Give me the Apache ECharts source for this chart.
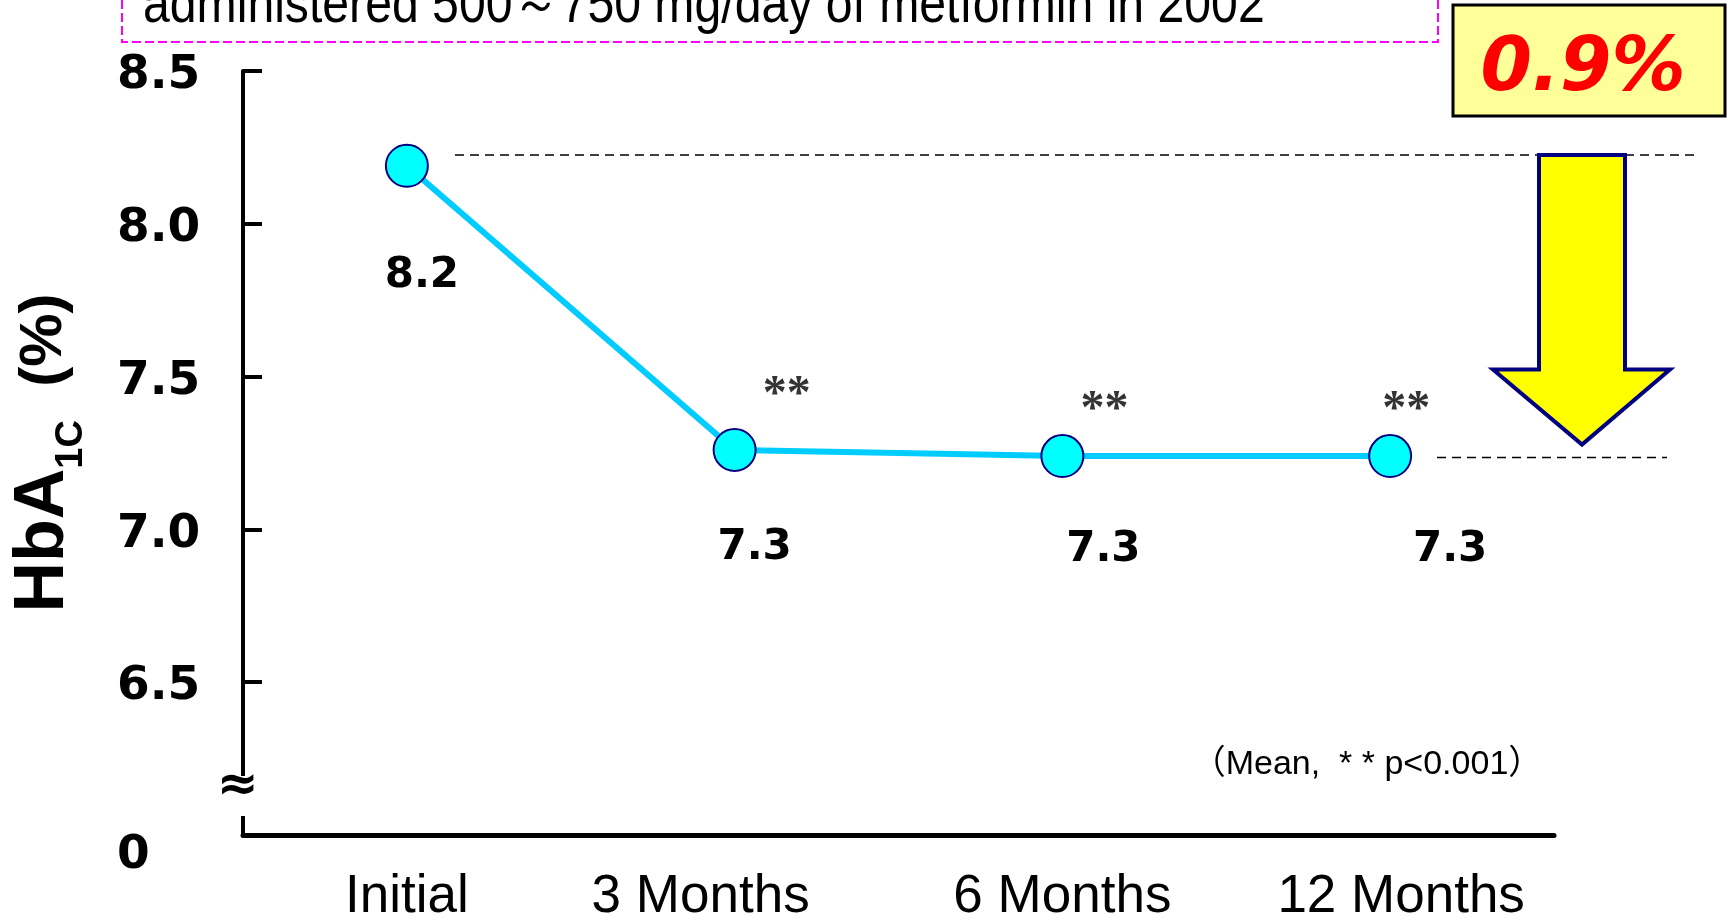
<!DOCTYPE html>
<html>
<head>
<meta charset="utf-8">
<title>HbA1c</title>
<script src="https://cdn.jsdelivr.net/npm/echarts@6.0.0/dist/echarts.min.js"></script>
<style>
  html, body { margin: 0; padding: 0; background: #fff; }
  #main { width: 1727px; height: 918px; }
</style>
</head>
<body>
<div id="main"></div>
<script>
var periods = ['Initial', '3 Months', '6 Months', '12 Months'];
var hba1c = [8.19, 7.26, 7.24, 7.24];
var meanLabels = ['8.2', '7.3', '7.3', '7.3'];
var sigMarks = ['', '**', '**', '**'];
var yTicks = [6, 6.5, 7, 7.5, 8, 8.5];
var yTickLabels = ['0', '6.5', '7.0', '7.5', '8.0', '8.5'];
var refLevels = [8.225, 7.235];
var dropText = '0.9%';
var noteText = '（Mean,  * * p<0.001）';
var headline = 'administered 500～750 mg/day of metformin in 2002';

(function () {
  var chart = echarts.init(document.getElementById('main'));
  var sans = '"Liberation Sans", sans-serif';
  var wide = '"DejaVu Sans", sans-serif';

  // label nudges, as placed on the slide
  var valueOffsets = [[15, 110], [20, 98], [41, 94], [60, 94]];
  var sigOffsets = [[0, 0], [52, -54], [42, -45], [16, -45]];
  var xLabelPad = [[0, 0, 0, 0], [0, 68, 0, 0], [0, 0, 0, 0], [0, 0, 0, 22]];

  var lineData = hba1c.map(function (v, i) {
    return { value: v, label: { offset: valueOffsets[i] } };
  });
  var sigData = hba1c.map(function (v, i) {
    return { value: [i, v], label: { offset: sigOffsets[i] } };
  });
  var xData = periods.map(function (p, i) {
    return { value: p, textStyle: { padding: xLabelPad[i] } };
  });

  var option = {
    animation: false,
    grid: { left: 243, right: 173, top: 71, bottom: 83, outerBoundsMode: 'none', containLabel: false },
    xAxis: {
      type: 'category',
      data: xData,
      boundaryGap: true,
      axisLine: { lineStyle: { color: '#000', width: 5 } },
      axisTick: { show: false },
      axisLabel: { interval: 0, margin: 36, color: '#000', fontSize: 53, fontFamily: sans }
    },
    yAxis: {
      type: 'value',
      min: yTicks[0],
      max: yTicks[yTicks.length - 1],
      interval: 0.5,
      name: '{a|HbA}{b|1C}{c|  (%)}',
      nameLocation: 'middle',
      nameRotate: 90,
      nameGap: 152,
      nameTextStyle: {
        rich: {
          a: { fontSize: 70, fontWeight: 'bold', fontFamily: sans, color: '#000' },
          b: { fontSize: 38, fontWeight: 'bold', fontFamily: sans, color: '#000', padding: [56, 0, 0, 0] },
          c: { fontSize: 60, fontWeight: 'bold', fontFamily: sans, color: '#000' }
        }
      },
      axisLine: { show: true, lineStyle: { color: '#000', width: 4 } },
      axisTick: { show: true, inside: true, length: 19, lineStyle: { color: '#000', width: 4 } },
      splitLine: { show: false },
      axisLabel: {
        align: 'left',
        margin: 126,
        color: '#000',
        fontSize: 47,
        fontWeight: 'bold',
        fontFamily: wide,
        formatter: function (v) {
          var i = yTicks.indexOf(v);
          if (i < 0) return '';
          return i === 0 ? '{z|' + yTickLabels[i] + '}' : '{n|' + yTickLabels[i] + '}';
        },
        rich: {
          n: { fontSize: 47, fontWeight: 'bold', fontFamily: wide, color: '#000', padding: [10, 0, 0, 0] },
          z: { fontSize: 47, fontWeight: 'bold', fontFamily: wide, color: '#000', padding: [42, 0, 0, 0] }
        }
      }
    },
    series: [
      {
        name: 'HbA1c',
        type: 'line',
        data: lineData,
        symbol: 'circle',
        symbolSize: 42,
        lineStyle: { color: '#00CCFF', width: 6 },
        itemStyle: { color: '#00FFFF', borderColor: '#000080', borderWidth: 2 },
        label: {
          show: true,
          position: 'inside',
          formatter: function (p) { return meanLabels[p.dataIndex]; },
          color: '#000',
          fontSize: 42,
          fontWeight: 'bold',
          fontFamily: wide
        },
        z: 3
      },
      {
        // significance marks
        name: 'sig',
        type: 'scatter',
        data: sigData,
        symbol: 'circle',
        symbolSize: 1,
        itemStyle: { color: 'rgba(0,0,0,0)' },
        label: {
          show: true,
          position: 'inside',
          formatter: function (p) { return sigMarks[p.dataIndex]; },
          color: '#000',
          fontSize: 48,
          fontWeight: 'bold',
          fontFamily: '"Liberation Serif", serif'
        },
        z: 4
      }
    ]
  };

  chart.setOption(option);

  // reference lines, arrow and notes
  var yTop = chart.convertToPixel({ yAxisIndex: 0 }, refLevels[0]);
  var yLow = chart.convertToPixel({ yAxisIndex: 0 }, refLevels[1]);
  var tip = yLow - 13;
  var headTop = tip - 75;

  chart.setOption({
    graphic: [
      {
        type: 'rect',
        shape: { x: 122, y: -10, width: 1316, height: 52 },
        style: { fill: 'none', stroke: '#FF00FF', lineWidth: 2, lineDash: [9, 4] }
      },
      {
        type: 'text',
        x: 143, y: 7,
        scaleX: 0.86,
        style: { text: headline, fill: '#000', fontSize: 56, fontFamily: sans, verticalAlign: 'middle' }
      },
      {
        type: 'rect',
        shape: { x: 1453, y: 5, width: 272, height: 111 },
        style: { fill: '#FFFF99', stroke: '#000', lineWidth: 3 }
      },
      {
        type: 'text',
        x: 1583, y: 71,
        style: {
          text: dropText, fill: '#FF0000', fontSize: 74, fontWeight: 'bold', fontStyle: 'italic',
          fontFamily: wide, align: 'center', verticalAlign: 'middle'
        }
      },
      {
        type: 'line',
        shape: { x1: 455, y1: yTop, x2: 1694, y2: yTop },
        style: { stroke: '#000', lineWidth: 1.5, lineDash: [9, 6] }
      },
      {
        type: 'line',
        shape: { x1: 1437, y1: yLow, x2: 1667, y2: yLow },
        style: { stroke: '#000', lineWidth: 1.5, lineDash: [9, 6] }
      },
      {
        type: 'polygon',
        shape: {
          points: [[1539, yTop], [1625, yTop], [1625, headTop], [1670, headTop],
                   [1582, tip], [1493, headTop], [1539, headTop]]
        },
        style: { fill: '#FFFF00', stroke: '#000080', lineWidth: 4 },
        z: 10
      },
      {
        // axis break
        type: 'rect',
        shape: { x: 222, y: 776, width: 40, height: 40 },
        style: { fill: '#fff' },
        z: 100
      },
      {
        type: 'text',
        x: 238, y: 787,
        style: { text: '≈', fill: '#000', fontSize: 50, fontWeight: 'bold', fontFamily: wide, align: 'center', verticalAlign: 'middle' },
        z: 101
      },
      {
        type: 'text',
        x: 1367, y: 765,
        style: {
          text: noteText, fill: '#000', fontSize: 34,
          fontFamily: '"Liberation Sans", "Noto Sans CJK JP", sans-serif',
          align: 'center', verticalAlign: 'middle'
        }
      }
    ]
  });
})();
</script>
</body>
</html>
